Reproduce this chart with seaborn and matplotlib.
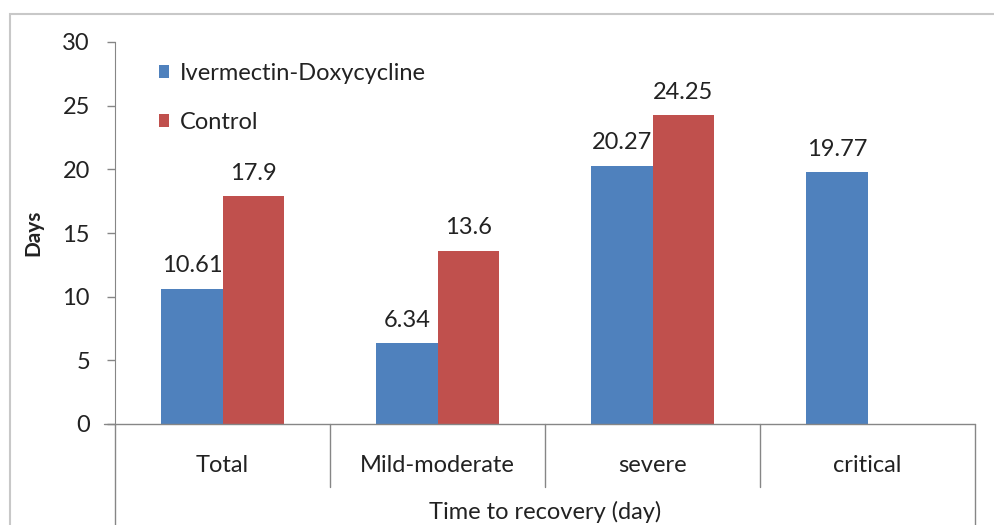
import numpy as np
import pandas as pd
import seaborn as sns
import matplotlib.pyplot as plt
from matplotlib.patches import Rectangle
from matplotlib.transforms import blended_transform_factory

categories = ["Total", "Mild-moderate", "severe", "critical"]
groups = ["Ivermectin-Doxycycline", "Control"]
iver_doxy = [10.61, 6.34, 20.27, 19.77]
control = [17.9, 13.6, 24.25, np.nan]
y_ticks = [0, 5, 10, 15, 20, 25, 30]

df = pd.DataFrame({
    "category": categories * 2,
    "group": [groups[0]] * 4 + [groups[1]] * 4,
    "days": iver_doxy + control,
})

sns.set_style("white")
plt.rcParams["font.family"] = ["Lato", "DejaVu Sans"]

fig = plt.figure(figsize=(9.94, 5.25), dpi=100)
ax = fig.add_axes([115 / 994, 1 - 424 / 525, 860 / 994, 382 / 525])

palette = {groups[0]: "#4F81BD", groups[1]: "#C0504D"}
sns.barplot(data=df, x="category", y="days", hue="group", order=categories,
            hue_order=groups, palette=palette, width=0.57, gap=0,
            saturation=1, linewidth=0, ax=ax, errorbar=None)

for cont in ax.containers:
    ax.bar_label(cont, fmt="%g", padding=9, fontsize=17, color="#222222")

ax.set_xlim(-0.5, 3.5)
ax.set_ylim(0, 30)
ax.set_yticks(y_ticks)
ax.tick_params(axis="y", labelsize=17, length=6, width=1, color="#868686",
               pad=12, left=True, labelcolor="#222222")
ax.tick_params(axis="x", labelsize=17, length=0, pad=22, labelcolor="#222222")
for side in ["top", "right", "bottom"]:
    ax.spines[side].set_visible(False)
ax.spines["left"].set_color("#868686")

ax.set_xlabel("Time to recovery (day)", fontsize=17, labelpad=18, color="#222222")
ax.set_ylabel("Days", fontsize=15, fontweight="bold", labelpad=14, color="#222222")

# category table lines below the axis
trans = blended_transform_factory(ax.transData, ax.transAxes)
ax.plot([-0.55, 3.5], [0, 0], transform=trans, color="#868686", lw=1, clip_on=False)
for b in [0.5, 1.5, 2.5]:
    ax.plot([b, b], [0, -0.165], transform=trans, color="#868686", lw=1, clip_on=False)
for b in [-0.5, 3.5]:
    ax.plot([b, b], [0, -0.35], transform=trans, color="#868686", lw=1, clip_on=False)

leg = ax.legend(loc="upper left", bbox_to_anchor=(0.04, 0.97), frameon=False,
                fontsize=17, handlelength=0.45, handleheight=0.45,
                handletextpad=0.45, labelspacing=1.2, borderaxespad=0)
for t in leg.get_texts():
    t.set_color("#222222")

fig.patches.append(Rectangle((10 / 994, -0.1), 1.2, 1 - 14 / 525 + 0.1,
                             transform=fig.transFigure, fill=False,
                             edgecolor="#c8c8c8", lw=1.5))

fig.savefig("out.png", dpi=100)
